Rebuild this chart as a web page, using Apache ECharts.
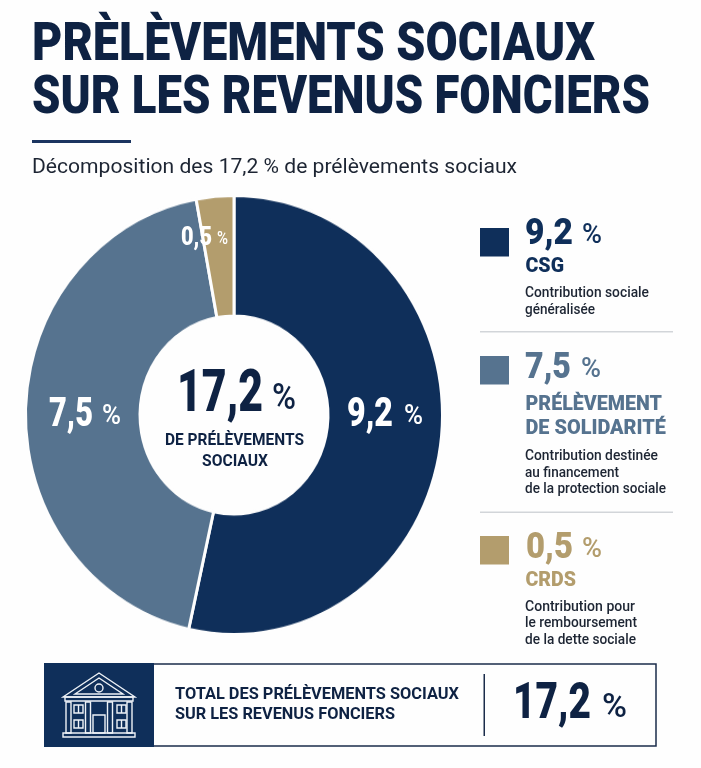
<!DOCTYPE html>
<html lang="fr">
<head>
<meta charset="utf-8">
<title>Prélèvements sociaux sur les revenus fonciers</title>
<script src="https://cdn.jsdelivr.net/npm/echarts@6/dist/echarts.min.js"></script>
<style>
  html, body { margin: 0; padding: 0; background: #fefefe; }
  #stage { position: relative; width: 701px; height: 768px; overflow: hidden; }
  #donut, #page { position: absolute; left: 0; top: 0; width: 701px; height: 768px; }
  /* the ring is drawn slightly taller than wide */
  #donut { transform-origin: 234px 415px; transform: scaleY(1.053); }
</style>
</head>
<body>
<div id="stage"><div id="donut"></div><div id="page"></div></div>
<script>
// Components of the 17.2 % social levy
const names = ['CSG', 'Prélèvement de solidarité', 'CRDS'];
const shares = [9.2, 7.5, 0.5];
const total = 17.2;
const colours = ['#0f2f5a', '#56738f', '#b39d6d'];
const headings = [['CSG'], ['PRÉLÈVEMENT', 'DE SOLIDARITÉ'], ['CRDS']];
const descriptions = [
  ['Contribution sociale', 'généralisée'],
  ['Contribution destinée', 'au financement', 'de la protection sociale'],
  ['Contribution pour', 'le remboursement', 'de la dette sociale']
];
const titleLines = ['PRÈLÈVEMENTS SOCIAUX', 'SUR LES REVENUS FONCIERS'];
const subtitle = 'Décomposition des 17,2 % de prélèvements sociaux';
const centreLines = ['DE PRÉLÈVEMENTS', 'SOCIAUX'];
const footerLines = ['TOTAL DES PRÉLÈVEMENTS SOCIAUX', 'SUR LES REVENUS FONCIERS'];

const NAVY = '#0e2243';
const INK = '#1d2533';
const FACE = 'Roboto, sans-serif';
const fmt = v => v.toFixed(1).replace('.', ',');

// Ring with one sector per component
const donut = echarts.init(document.getElementById('donut'), null, { renderer: 'canvas' });
donut.setOption({
  animation: false,
  series: [{
    type: 'pie',
    center: [234, 415],
    radius: [94, 208.5],
    startAngle: 90,
    clockwise: true,
    silent: true,
    itemStyle: { borderColor: '#fefefe', borderWidth: 3 },
    label: { show: false },
    labelLine: { show: false },
    data: names.map((name, i) => ({ name, value: shares[i], itemStyle: { color: colours[i] } }))
  }]
});

// Condensed lettering: each string is squeezed to span the columns x0..x1
const ruler = document.createElement('canvas').getContext('2d');
function text(x0, x1, y, str, size, weight, color) {
  const font = `${weight} ${size}px ${FACE}`;
  ruler.font = font;
  return {
    type: 'text', x: x0, y, scaleX: (x1 - x0) / ruler.measureText(str).width, silent: true,
    style: {
      x: 0, y: 0, text: str, fill: color,
      fontFamily: FACE, fontWeight: weight, fontSize: size,
      textAlign: 'left', textVerticalAlign: 'middle'
    }
  };
}
const rect = (x, y, w, h, fill) => ({ type: 'rect', silent: true, shape: { x, y, width: w, height: h }, style: { fill } });
const outline = (shape, type) => ({ type, silent: true, shape, style: { fill: 'none', stroke: '#eef2f7', lineWidth: 1.4 } });

// Pictogram of a columned public building
function building() {
  const parts = [
    outline({ points: [[63, 697], [99, 673], [135, 697]] }, 'polygon'),
    outline({ points: [[75, 694], [99, 678], [123, 694]] }, 'polygon'),
    outline({ cx: 99, cy: 688, r: 4 }, 'circle'),
    outline({ x: 65, y: 697, width: 68, height: 4 }, 'rect'),
    outline({ x: 63, y: 733, width: 72, height: 4 }, 'rect'),
    outline({ x: 93, y: 715, width: 12, height: 18 }, 'rect')
  ];
  [66, 85.5, 107.5, 127].forEach(x => parts.push(outline({ x, y: 702, width: 5, height: 31 }, 'rect')));
  [74, 117].forEach(x => [705, 720].forEach(y => {
    parts.push(outline({ x, y, width: 9, height: 8 }, 'rect'));
    parts.push(outline({ x1: x + 4.5, y1: y, x2: x + 4.5, y2: y + 8 }, 'line'));
  }));
  return parts;
}

const els = [];
// Heading block
els.push(text(32, 595, 47, titleLines[0], 53.5, 900, NAVY));
els.push(text(32, 650, 100, titleLines[1], 53.5, 900, NAVY));
els.push(rect(32, 140, 99, 3, '#1b3560'));
els.push(text(32, 517, 168, subtitle, 20, 400, INK));

// Values written on the sectors
const sectorSpans = [[347, 393, 404, 423, 416], [49, 93, 102, 121, 416], [181, 212, 217, 228, 238]];
const sectorSizes = [[40, 27], [40, 27], [26, 18]];
sectorSpans.forEach((s, i) => {
  els.push(text(s[0], s[1], s[4], fmt(shares[i]), sectorSizes[i][0], 900, '#fff'));
  els.push(text(s[2], s[3], s[4] + 1, '%', sectorSizes[i][1], 500, '#fff'));
});

// Centre of the ring
els.push(text(177, 263, 396, fmt(total), 59, 900, NAVY));
els.push(text(272, 296, 400, '%', 37, 500, NAVY));
els.push(text(165, 304, 441, centreLines[0], 17, 700, NAVY));
els.push(text(202, 268, 462, centreLines[1], 17, 700, NAVY));

// Legend column
const squareTop = [228, 356, 536];
const valueY = [235, 369, 549];
const valueSpan = [[525, 573, 582, 602], [525, 571, 581, 601], [526, 573, 582, 602]];
const headingY = [[267], [405, 429], [581]];
const headingEnd = [[564], [662, 666], [576]];
const descY = [[293, 310], [456, 473, 489], [607, 623, 640]];
const descEnd = [[649, 595], [658, 619, 666], [635, 637, 636]];
names.forEach((_, i) => {
  const c = colours[i];
  const v = valueSpan[i];
  els.push(rect(480, squareTop[i], 29, 28.5, c));
  els.push(text(v[0], v[1], valueY[i], fmt(shares[i]), 37, 900, c));
  els.push(text(v[2], v[3], valueY[i] + 1, '%', 27, 500, c));
  headings[i].forEach((h, j) => els.push(text(525.5, headingEnd[i][j], headingY[i][j], h, 21, 900, c)));
  descriptions[i].forEach((d, j) => els.push(text(525, descEnd[i][j], descY[i][j], d, 14, 500, INK)));
});
els.push(rect(480, 331, 193, 1.5, '#d2d5d9'));
els.push(rect(480, 511.5, 193, 1.5, '#d2d5d9'));

// Total banner
els.push({ type: 'rect', silent: true, shape: { x: 45, y: 664, width: 611, height: 82 }, style: { fill: 'none', stroke: '#1b2c4b', lineWidth: 1.5 } });
els.push(rect(44, 663, 110, 84, colours[0]));
building().forEach(p => els.push(p));
els.push(text(175, 459, 695, footerLines[0], 16, 700, NAVY));
els.push(text(175, 395, 715, footerLines[1], 16, 700, NAVY));
els.push(rect(483.5, 674, 1.5, 62, '#1b2c4b'));
els.push(text(513, 591, 705, fmt(total), 50, 900, NAVY));
els.push(text(602, 627, 708, '%', 34, 500, NAVY));

const page = echarts.init(document.getElementById('page'), null, { renderer: 'canvas' });
page.setOption({ animation: false, backgroundColor: 'transparent', graphic: { elements: els } });
</script>
</body>
</html>
